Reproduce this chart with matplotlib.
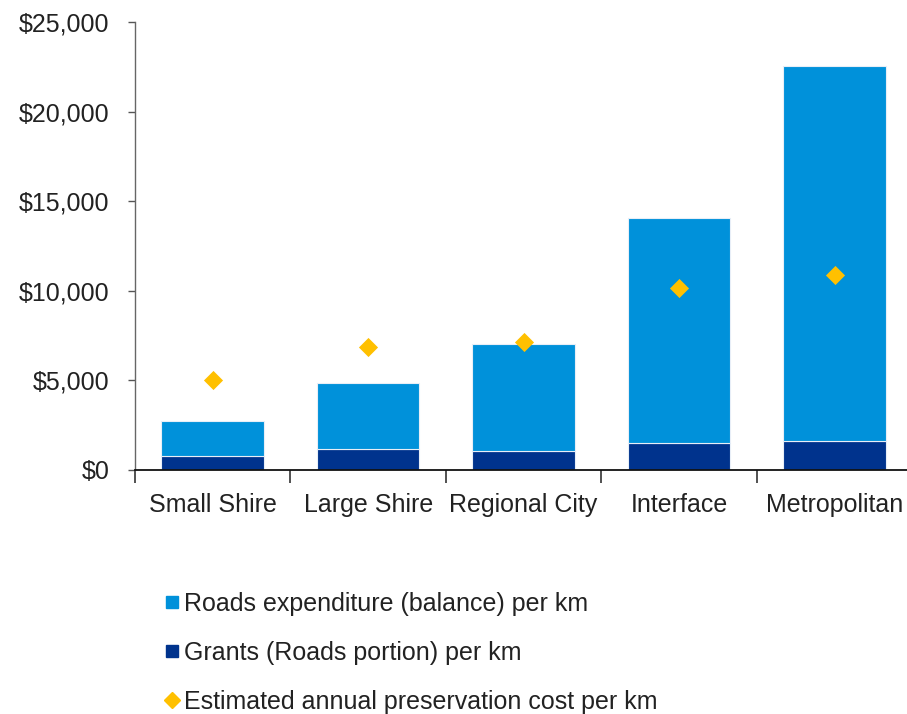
import matplotlib
matplotlib.use("Agg")
import matplotlib.pyplot as plt
from matplotlib.lines import Line2D
from matplotlib.ticker import FuncFormatter

categories = ["Small Shire", "Large Shire", "Regional City", "Interface", "Metropolitan"]
grants = [750, 1170, 1050, 1500, 1600]
totals = [2750, 4850, 7000, 14050, 22550]
balance = [t - g for t, g in zip(totals, grants)]
preservation = [5000, 6850, 7150, 10150, 10900]

LIGHT = "#0091DA"
DARK = "#00338D"
GOLD = "#FFC000"

plt.rcParams["font.family"] = ["Liberation Sans", "DejaVu Sans"]

fig = plt.figure(figsize=(9.07, 7.14), dpi=100)
ax = fig.add_axes([0.1488, 0.342, 0.857, 0.627])

x = list(range(len(categories)))
ax.bar(x, grants, width=0.66, color=DARK, edgecolor="#e8eef7", linewidth=0.8, zorder=2)
ax.bar(x, balance, bottom=grants, width=0.66, color=LIGHT, edgecolor="#e8eef7",
       linewidth=0.8, zorder=2)
ax.scatter(x, preservation, marker="D", s=95, color=GOLD, zorder=3, linewidths=0)

ax.set_xlim(-0.5, len(categories) - 0.5)
ax.set_ylim(0, 25000)
ax.set_yticks(range(0, 25001, 5000))
ax.yaxis.set_major_formatter(FuncFormatter(lambda v, _: f"${v:,.0f}"))
ax.tick_params(axis="y", direction="out", length=5, width=1, color="#555555",
               labelsize=18, pad=13.5, labelcolor="#222222")

ax.set_xticks(x)
ax.set_xticklabels(categories)
ax.set_xticks([i - 0.5 for i in range(len(categories) + 1)], minor=True)
ax.tick_params(axis="x", which="major", length=0, labelsize=18, pad=17, labelcolor="#222222")
ax.tick_params(axis="x", which="minor", direction="out", length=9, width=1.2, color="#333333")

for side in ("top", "right"):
    ax.spines[side].set_visible(False)
ax.spines["left"].set_color("#666666")
ax.spines["left"].set_linewidth(1)
ax.spines["bottom"].set_color("#111111")
ax.spines["bottom"].set_linewidth(1.3)

handles = [
    Line2D([], [], marker="s", linestyle="none", markersize=9, color=LIGHT),
    Line2D([], [], marker="s", linestyle="none", markersize=9, color=DARK),
    Line2D([], [], marker="D", linestyle="none", markersize=8, color=GOLD),
]
labels = [
    "Roads expenditure (balance) per km",
    "Grants (Roads portion) per km",
    "Estimated annual preservation cost per km",
]
fig.legend(handles, labels, loc="upper left", bbox_to_anchor=(0.169, 0.189),
           frameon=False, fontsize=18, handlelength=0.5, handletextpad=0.22,
           labelspacing=1.0, borderpad=0, labelcolor="#222222")

fig.savefig("out.png", dpi=100)
